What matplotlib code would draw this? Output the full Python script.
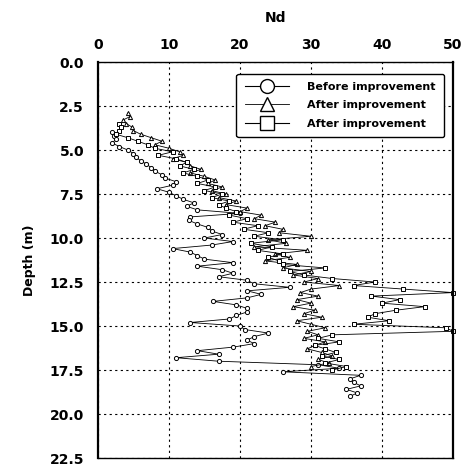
import matplotlib
matplotlib.use("Agg")
import matplotlib.pyplot as plt
from matplotlib.lines import Line2D

# Before improvement (circles)
depth_before = [4.0, 4.2, 4.4, 4.6, 4.8, 5.0, 5.2, 5.4, 5.6, 5.8, 6.0, 6.2, 6.4, 6.6, 6.8,
                7.0, 7.2, 7.4, 7.6, 7.8, 8.0, 8.2, 8.4, 8.6, 8.8, 9.0, 9.2, 9.4, 9.6, 9.8,
                10.0, 10.2, 10.4, 10.6, 10.8, 11.0, 11.2, 11.4, 11.6, 11.8, 12.0, 12.2, 12.4,
                12.6, 12.8, 13.0, 13.2, 13.4, 13.6, 13.8, 14.0, 14.2, 14.4, 14.6, 14.8, 15.0,
                15.2, 15.4, 15.6, 15.8, 16.0, 16.2, 16.4, 16.6, 16.8, 17.0, 17.2, 17.4, 17.6,
                17.8, 18.0, 18.2, 18.4, 18.6, 18.8, 19.0]
nd_before = [2.0, 2.2, 2.5, 2.0, 3.0, 4.2, 5.0, 5.3, 6.0, 6.8, 7.5, 8.0, 9.0, 9.5, 11.0,
             10.5, 8.3, 10.0, 11.0, 12.0, 13.5, 12.5, 14.0, 20.0, 13.0, 12.8, 14.0, 15.5, 16.0, 17.5,
             15.0, 19.0, 16.0, 10.5, 13.0, 14.0, 15.0, 19.0, 14.0, 17.5, 19.0, 17.0, 21.0,
             22.0, 27.0, 21.0, 23.0, 21.0, 16.2, 19.5, 21.0, 21.0, 19.5, 18.5, 13.0, 20.0,
             20.7, 24.0, 22.0, 21.0, 22.0, 19.0, 14.0, 17.0, 11.0, 17.0, 31.0, 34.0, 26.0,
             37.0, 35.5, 36.0, 37.0, 35.0, 36.5, 35.5]

# After improvement (triangles)
depth_after1 = [2.9, 3.1, 3.3, 3.5, 3.7, 3.9, 4.1, 4.3, 4.5, 4.7, 4.9, 5.1, 5.3, 5.5, 5.7,
                5.9, 6.1, 6.3, 6.5, 6.7, 6.9, 7.1, 7.3, 7.5, 7.7, 7.9, 8.1, 8.3, 8.5, 8.7,
                8.9, 9.1, 9.3, 9.5, 9.7, 9.9, 10.1, 10.3, 10.5, 10.7, 10.9, 11.1, 11.3, 11.5,
                11.7, 11.9, 12.1, 12.3, 12.5, 12.7, 12.9, 13.1, 13.3, 13.5, 13.7, 13.9, 14.1,
                14.3, 14.5, 14.7, 14.9, 15.1, 15.3, 15.5, 15.7, 15.9, 16.1, 16.3, 16.5, 16.7,
                16.9, 17.1, 17.3]
nd_after1 = [4.2, 4.5, 3.5, 4.0, 4.8, 5.0, 6.0, 7.5, 9.0, 8.0, 10.0, 11.5, 12.0, 10.5, 12.5,
             13.0, 14.5, 13.0, 15.0, 16.5, 15.5, 17.5, 16.0, 18.0, 17.0, 19.5, 18.0, 21.0, 20.0, 23.0,
             22.0, 25.0, 23.5, 26.0, 25.5, 30.0, 24.0, 26.5, 22.0, 29.5, 25.0, 27.0, 23.5, 28.0,
             26.0, 30.0, 27.5, 31.0, 29.0, 34.0, 30.0, 28.5, 31.0, 28.0, 30.0, 27.5, 30.5,
             29.0, 31.5, 28.0, 30.0, 32.0, 29.5, 31.0, 29.0, 32.0, 30.5, 29.5, 31.5, 33.0,
             31.0, 32.5, 30.0]

# After improvement (squares)
depth_after2 = [3.5, 3.7, 3.9, 4.1, 4.3, 4.5, 4.7, 4.9, 5.1, 5.3, 5.5, 5.7, 5.9, 6.1, 6.3,
                6.5, 6.7, 6.9, 7.1, 7.3, 7.5, 7.7, 7.9, 8.1, 8.3, 8.5, 8.7, 8.9, 9.1, 9.3,
                9.5, 9.7, 9.9, 10.1, 10.3, 10.5, 10.7, 10.9, 11.1, 11.3, 11.5, 11.7, 11.9, 12.1,
                12.3, 12.5, 12.7, 12.9, 13.1, 13.3, 13.5, 13.7, 13.9, 14.1, 14.3, 14.5, 14.7,
                14.9, 15.1, 15.3, 15.5, 15.7, 15.9, 16.1, 16.3, 16.5, 16.7, 16.9, 17.1, 17.3, 17.5]
nd_after2 = [3.0, 3.2, 3.0, 2.5, 4.2, 5.6, 7.0, 8.0, 10.5, 8.5, 11.0, 12.5, 11.5, 13.5, 12.0,
             14.0, 15.5, 14.0, 16.5, 15.0, 17.5, 16.0, 18.5, 17.0, 18.0, 19.5, 18.5, 21.0, 19.0, 22.5,
             20.5, 24.0, 22.0, 26.0, 21.5, 24.5, 22.5, 26.0, 24.0, 25.5, 26.0, 32.0, 27.0, 29.0,
             33.0, 39.0, 36.0, 43.0, 50.0, 38.5, 42.5, 40.0, 46.0, 42.0, 39.0, 38.0, 41.0,
             36.0, 49.0, 50.0, 33.0, 31.0, 34.0, 30.5, 32.0, 33.5, 31.5, 34.0, 32.0, 35.0, 33.0]

labels = ["Before improvement", "After improvement", "After improvement"]
x_ticks = [0, 10, 20, 30, 40, 50]
y_ticks = [0.0, 2.5, 5.0, 7.5, 10.0, 12.5, 15.0, 17.5, 20.0, 22.5]

fig = plt.figure(figsize=(4.68, 4.65), dpi=100)
ax = fig.add_axes([0.2094, 0.015, 0.7585, 0.8516])

style = dict(color="black", lw=0.6, markersize=3.0, markerfacecolor="white",
             markeredgecolor="black", markeredgewidth=0.7, clip_on=False)
ax.plot(nd_before, depth_before, marker="o", **style)
ax.plot(nd_after1, depth_after1, marker="^", **style)
ax.plot(nd_after2, depth_after2, marker="s", **style)

ax.set_xlim(0, 50)
ax.set_ylim(22.5, 0)
ax.set_xticks(x_ticks)
ax.set_yticks(y_ticks)
ax.set_yticklabels([f"{v:.1f}" for v in y_ticks])
ax.xaxis.tick_top()
ax.xaxis.set_label_position("top")
ax.tick_params(axis="both", length=0, labelsize=10)
ax.tick_params(axis="x", pad=7)
ax.tick_params(axis="y", pad=10)
for lab in ax.get_xticklabels() + ax.get_yticklabels():
    lab.set_fontweight("bold")

ax.set_xlabel("Nd", fontsize=10, fontweight="bold", labelpad=12)
ax.set_ylabel("Depth (m)", fontsize=9, fontweight="bold", labelpad=10)

ax.grid(True, color="black", linestyle=(0, (2, 3)), lw=0.8)
ax.set_axisbelow(True)
for side in ["left", "right"]:
    ax.spines[side].set_linewidth(1.6)
for side in ["top", "bottom"]:
    ax.spines[side].set_linewidth(1.0)

handles = [
    Line2D([], [], color="black", lw=0.8, marker="o", markersize=10, markerfacecolor="white",
           markeredgecolor="black"),
    Line2D([], [], color="black", lw=0.6, marker="^", markersize=10, markerfacecolor="white",
           markeredgecolor="black"),
    Line2D([], [], color="black", lw=0.8, marker="s", markersize=10, markerfacecolor="white",
           markeredgecolor="black"),
]
leg = ax.legend(handles, labels, loc="upper right", bbox_to_anchor=(0.99, 0.985),
                prop={"weight": "bold", "size": 8}, frameon=True, fancybox=True,
                edgecolor="black", framealpha=1, handlelength=4.0, labelspacing=0.75,
                borderpad=0.75, handletextpad=1.6)
leg.get_frame().set_linewidth(1.0)

fig.savefig("out.png", dpi=100)
